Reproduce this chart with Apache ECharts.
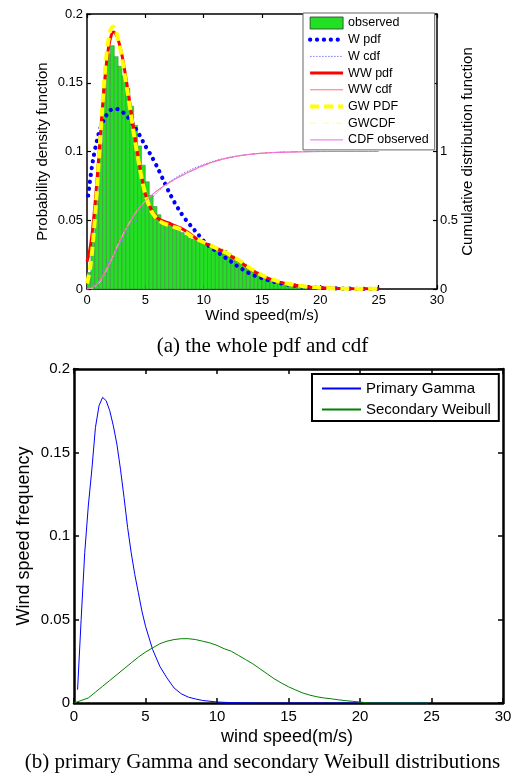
<!DOCTYPE html>
<html>
<head>
<meta charset="utf-8">
<script src="https://cdn.jsdelivr.net/npm/echarts@6/dist/echarts.min.js"></script>
<style>
  html, body { margin: 0; padding: 0; background: #fff; }
  #chart { width: 515px; height: 774px; }
</style>
</head>
<body>
<div id="chart"></div>
<script>
// ---- (a) observed histogram with fitted pdfs and cdfs ----
const binWidth = 1 / 3;
const binCentres = [
  0.17, 0.5, 0.83, 1.17, 1.5, 1.83, 2.17, 2.5, 2.83, 3.17, 3.5, 3.83, 4.17, 4.5, 4.83,
  5.17, 5.5, 5.83, 6.17, 6.5, 6.83, 7.17, 7.5, 7.83, 8.17, 8.5, 8.83, 9.17, 9.5, 9.83,
  10.17, 10.5, 10.83, 11.17, 11.5, 11.83, 12.17, 12.5, 12.83, 13.17, 13.5, 13.83, 14.17, 14.5, 14.83,
  15.17, 15.5, 15.83, 16.17, 16.5, 16.83, 17.17, 17.5, 17.83, 18.17, 18.5, 18.83, 19.17, 19.5, 19.83,
  20.17, 20.5, 20.83, 21.17, 21.5, 21.83, 22.17, 22.5, 22.83, 23.17, 23.5, 23.83, 24.17, 24.5, 24.83
];
const observedFreq = [
  0.012, 0.036, 0.068, 0.106, 0.146, 0.171, 0.177, 0.169, 0.162, 0.155, 0.146, 0.133, 0.119, 0.104, 0.090,
  0.078, 0.068, 0.060, 0.054, 0.050, 0.048, 0.046, 0.044, 0.043, 0.041, 0.039, 0.037, 0.036, 0.035, 0.034,
  0.033, 0.032, 0.031, 0.030, 0.029, 0.028, 0.026, 0.024, 0.022, 0.020, 0.018, 0.016, 0.014, 0.012, 0.010,
  0.0088, 0.0075, 0.0064, 0.0054, 0.0046, 0.0039, 0.0033, 0.0028, 0.0024, 0.0020, 0.0017, 0.0014, 0.0012, 0.0010, 0.0008,
  0.0007, 0.0006, 0.0005, 0.0004, 0.0004, 0.0003, 0.0003, 0.0002, 0.0002, 0.0002, 0.0001, 0.0001, 0.0001, 0.0001, 0.0001
];

const pdfSpeed = [
  0, 0.25, 0.5, 0.75, 1, 1.25, 1.5, 1.75, 2, 2.25, 2.5, 2.75, 3, 3.25, 3.5, 3.75, 4, 4.25, 4.5, 4.75,
  5, 5.5, 6, 6.5, 7, 7.5, 8, 8.5, 9, 9.5, 10, 10.5, 11, 11.5, 12, 12.5, 13, 13.5, 14, 14.5,
  15, 15.5, 16, 16.5, 17, 18, 19, 20, 21, 22, 23, 24, 25
];
const wwPdf = [
  0.020, 0.029, 0.045, 0.068, 0.095, 0.124, 0.150, 0.170, 0.182, 0.187, 0.185, 0.179, 0.170, 0.158, 0.145, 0.131, 0.117, 0.103, 0.090, 0.079,
  0.069, 0.058, 0.052, 0.0495, 0.048, 0.046, 0.0445, 0.042, 0.039, 0.036, 0.0335, 0.032, 0.030, 0.028, 0.0255, 0.023, 0.0205, 0.0175, 0.0145, 0.012,
  0.0097, 0.0079, 0.0063, 0.005, 0.004, 0.0025, 0.0015, 0.0009, 0.0005, 0.0003, 0.0002, 0.0001, 0.0001
];
const gwPdf = [
  0.004, 0.014, 0.033, 0.060, 0.092, 0.124, 0.154, 0.176, 0.188, 0.191, 0.187, 0.179, 0.168, 0.155, 0.142, 0.128, 0.114, 0.101, 0.089, 0.078,
  0.069, 0.057, 0.051, 0.048, 0.0465, 0.045, 0.0435, 0.041, 0.038, 0.036, 0.034, 0.032, 0.030, 0.028, 0.026, 0.0235, 0.021, 0.018, 0.015, 0.0125,
  0.010, 0.0082, 0.0066, 0.0053, 0.0042, 0.0026, 0.0016, 0.0009, 0.0005, 0.0003, 0.0002, 0.0001, 0.0001
];

const wPdfSpeed = [
  0.1, 0.5, 1, 1.5, 2, 2.5, 3, 3.5, 4, 4.5, 5, 5.5, 6, 6.5, 7, 7.5, 8, 8.5, 9, 9.5,
  10, 10.5, 11, 11.5, 12, 12.5, 13, 13.5, 14, 14.5, 15, 16, 17, 18, 19, 20, 21, 22, 23, 24, 25
];
const wPdf = [
  0.068, 0.093, 0.113, 0.124, 0.130, 0.131, 0.129, 0.125, 0.119, 0.112, 0.104, 0.097, 0.089, 0.080, 0.071, 0.063, 0.056, 0.050, 0.045, 0.040,
  0.035, 0.031, 0.028, 0.025, 0.022, 0.019, 0.016, 0.0135, 0.011, 0.0093, 0.0078, 0.0053, 0.0035, 0.0022, 0.0013, 0.0008, 0.0005, 0.0003, 0.0002, 0.0001, 0.0001
];

const cdfSpeed = [
  0, 0.5, 1, 1.5, 2, 2.5, 3, 3.5, 4, 4.5, 5, 5.5, 6, 6.5, 7, 7.5, 8,
  9, 10, 11, 12, 13, 14, 15, 16, 17, 18, 19, 20, 21, 22, 23, 24, 25
];
const wCdf = [
  0, 0.04, 0.09, 0.15, 0.215, 0.28, 0.345, 0.41, 0.47, 0.535, 0.597, 0.653, 0.70, 0.74, 0.774, 0.804, 0.83,
  0.872, 0.906, 0.934, 0.955, 0.970, 0.981, 0.988, 0.993, 0.996, 0.998, 0.999, 0.999, 1, 1, 1, 1, 1
];
const wwCdf = [
  0, 0.016, 0.054, 0.12, 0.203, 0.295, 0.386, 0.465, 0.537, 0.594, 0.641, 0.68, 0.713, 0.742, 0.769, 0.795, 0.818,
  0.86, 0.897, 0.928, 0.951, 0.968, 0.98, 0.988, 0.993, 0.996, 0.998, 0.999, 1, 1, 1, 1, 1, 1
];
const gwCdf = [
  0, 0.008, 0.04, 0.108, 0.195, 0.29, 0.38, 0.46, 0.533, 0.591, 0.64, 0.679, 0.712, 0.741, 0.768, 0.794, 0.817,
  0.859, 0.896, 0.927, 0.951, 0.968, 0.98, 0.988, 0.993, 0.996, 0.998, 0.999, 1, 1, 1, 1, 1, 1
];
const cdfObserved = [
  0, 0.012, 0.045, 0.11, 0.195, 0.285, 0.375, 0.455, 0.53, 0.59, 0.64, 0.68, 0.715, 0.745, 0.772, 0.797, 0.82,
  0.862, 0.9, 0.93, 0.952, 0.968, 0.979, 0.987, 0.992, 0.995, 0.997, 0.999, 1, 1, 1, 1, 1, 1
];

// ---- (b) mixture components ----
const gammaSpeed = [
  0.25, 0.5, 0.75, 1, 1.25, 1.5, 1.75, 2, 2.25, 2.5, 2.75, 3, 3.25, 3.5, 3.75, 4, 4.25, 4.5, 4.75, 5,
  5.25, 5.5, 5.75, 6, 6.5, 7, 7.5, 8, 8.5, 9, 10, 11, 12, 13, 14, 15, 16, 17, 18, 19, 20, 21, 22, 23, 24, 24.75
];
const gammaFreq = [
  0.008, 0.05, 0.09, 0.118, 0.14, 0.165, 0.178, 0.183, 0.181, 0.175, 0.166, 0.155, 0.14, 0.123, 0.105, 0.09, 0.077, 0.066, 0.055, 0.046,
  0.039, 0.032, 0.027, 0.022, 0.015, 0.009, 0.0055, 0.0035, 0.0024, 0.0015, 0.0006, 0.0002, 0.0001, 0, 0, 0, 0, 0, 0, 0, 0, 0, 0, 0, 0, 0
];
const weibullSpeed = [
  0, 0.5, 1, 1.5, 2, 2.5, 3, 3.5, 4, 4.5, 5, 5.5, 6, 6.5, 7, 7.5, 8, 8.5, 9, 9.5,
  10, 10.5, 11, 11.5, 12, 12.5, 13, 13.5, 14, 14.5, 15, 15.5, 16, 16.5, 17, 17.5, 18, 18.5, 19, 19.5,
  20, 20.5, 21, 22, 23, 24, 24.75
];
const weibullFreq = [
  0, 0.0015, 0.003, 0.0065, 0.01, 0.0135, 0.017, 0.0205, 0.024, 0.0275, 0.0305, 0.033, 0.0355, 0.037, 0.038, 0.0385, 0.0385, 0.038, 0.037, 0.036,
  0.0345, 0.0325, 0.031, 0.0285, 0.026, 0.0235, 0.0205, 0.0175, 0.0145, 0.012, 0.0097, 0.0078, 0.006, 0.0047, 0.0037, 0.003, 0.0025, 0.0019, 0.0014, 0.001,
  0.0006, 0.0001, 0, 0, 0, 0, 0
];

const zip = (xs, ys) => xs.map((x, i) => [x, ys[i]]);

const SANS = "'Liberation Sans', Arial, sans-serif";
const SERIF = "'Liberation Serif', 'Times New Roman', serif";

function valueAxis(extra) {
  return Object.assign({
    type: 'value',
    splitLine: { show: false },
    axisLine: { show: true, onZero: false, lineStyle: { color: '#000', width: 1.5 } },
    axisTick: { show: true, inside: true, length: 4, lineStyle: { color: '#000', width: 1.2 } },
    axisLabel: { color: '#000', fontFamily: SANS, fontSize: 13 }
  }, extra);
}

const chart = echarts.init(document.getElementById('chart'), null, { renderer: 'canvas' });

const histColor = '#22e022';
const histEdge = '#4a8a4a';

// line styles shared by the plotted curves and their legend entries
const styleWPdf = { color: '#0000ff', width: 4.2, type: [0.1, 6.8], cap: 'round' };
const styleWCdf = { color: '#7a7aff', width: 1, type: [1.5, 1.5] };
const styleWWPdf = { color: '#ff0000', width: 3 };
const styleWWCdf = { color: '#ff7070', width: 1 };
const styleGWPdf = { color: '#ffff00', width: 4, type: [9, 5] };
const styleGWCdf = { color: '#ffff88', width: 1, type: [6, 3, 1, 3] };
const styleCdfObs = { color: '#ee66ee', width: 1 };

const option = {
  animation: false,
  backgroundColor: '#fff',
  grid: [
    { left: 87, top: 14, width: 350, height: 275 },
    { left: 74, top: 369, width: 429, height: 334 }
  ],
  xAxis: [
    valueAxis({ gridIndex: 0, min: 0, max: 30, interval: 5, position: 'bottom',
      axisLabel: { color: '#000', fontFamily: SANS, fontSize: 13, margin: 5 } }),
    valueAxis({ gridIndex: 0, min: 0, max: 30, interval: 5, position: 'top',
      axisLabel: { show: false } }),
    valueAxis({ gridIndex: 1, min: 0, max: 30, interval: 5, position: 'bottom',
      axisLine: { show: true, onZero: false, lineStyle: { color: '#000', width: 2.5 } },
      axisTick: { show: true, inside: true, length: 5, lineStyle: { color: '#000', width: 1.5 } },
      axisLabel: { color: '#000', fontFamily: SANS, fontSize: 15, margin: 6 } }),
    valueAxis({ gridIndex: 1, min: 0, max: 30, interval: 5, position: 'top',
      axisLine: { show: true, onZero: false, lineStyle: { color: '#000', width: 2.5 } },
      axisTick: { show: true, inside: true, length: 5, lineStyle: { color: '#000', width: 1.5 } },
      axisLabel: { show: false } })
  ],
  yAxis: [
    valueAxis({ gridIndex: 0, min: 0, max: 0.2, interval: 0.05, position: 'left',
      axisLabel: { color: '#000', fontFamily: SANS, fontSize: 13, margin: 4 } }),
    valueAxis({ gridIndex: 0, min: 0, max: 2, interval: 0.5, position: 'right',
      axisLabel: { color: '#000', fontFamily: SANS, fontSize: 13, margin: 3,
        formatter: v => (v > 1 ? '' : String(v)) } }),
    valueAxis({ gridIndex: 1, min: 0, max: 0.2, interval: 0.05, position: 'left',
      axisLine: { show: true, onZero: false, lineStyle: { color: '#000', width: 2.5 } },
      axisTick: { show: true, inside: true, length: 5, lineStyle: { color: '#000', width: 1.5 } },
      axisLabel: { color: '#000', fontFamily: SANS, fontSize: 15, margin: 4 } }),
    valueAxis({ gridIndex: 1, min: 0, max: 0.2, interval: 0.05, position: 'right',
      axisLine: { show: true, onZero: false, lineStyle: { color: '#000', width: 2.5 } },
      axisTick: { show: true, inside: true, length: 5, lineStyle: { color: '#000', width: 1.5 } },
      axisLabel: { show: false } })
  ],
  legend: [
    {
      orient: 'vertical', left: 303, top: 13,
      padding: [3, 6, 3, 5],
      itemWidth: 33, itemHeight: 12, itemGap: 2.7,
      backgroundColor: '#fff', borderColor: '#666', borderWidth: 1, borderRadius: 0,
      itemStyle: { opacity: 0 },
      textStyle: { color: '#000', fontFamily: SANS, fontSize: 12.5, lineHeight: 14 },
      data: [
        { name: 'observed', icon: 'rect',
          itemStyle: { opacity: 1, color: histColor, borderColor: '#333', borderWidth: 0.8 } },
        { name: 'W pdf', lineStyle: styleWPdf },
        { name: 'W cdf', lineStyle: styleWCdf },
        { name: 'WW pdf', lineStyle: styleWWPdf },
        { name: 'WW cdf', lineStyle: styleWWCdf },
        { name: 'GW PDF', lineStyle: styleGWPdf },
        { name: 'GWCDF', lineStyle: styleGWCdf },
        { name: 'CDF observed', lineStyle: styleCdfObs }
      ]
    },
    {
      orient: 'vertical', left: 312, top: 374,
      padding: [6, 8, 3, 9],
      itemWidth: 39, itemHeight: 10, itemGap: 4,
      backgroundColor: '#fff', borderColor: '#000', borderWidth: 2, borderRadius: 0,
      itemStyle: { opacity: 0 },
      textStyle: { color: '#000', fontFamily: SANS, fontSize: 15, lineHeight: 17 },
      data: ['Primary Gamma', 'Secondary Weibull']
    }
  ],
  series: [
    {
      name: 'observed', type: 'custom', xAxisIndex: 0, yAxisIndex: 0, clip: true,
      itemStyle: { color: histColor },
      encode: { x: 0, y: 1 },
      data: zip(binCentres, observedFreq),
      renderItem: function (params, api) {
        const x = api.value(0), h = api.value(1);
        const p0 = api.coord([x - binWidth / 2, h]);
        const p1 = api.coord([x + binWidth / 2, 0]);
        return {
          type: 'rect',
          shape: { x: p0[0], y: p0[1], width: p1[0] - p0[0], height: p1[1] - p0[1] },
          style: { fill: histColor, stroke: histEdge, lineWidth: 0.6 }
        };
      }
    },
    {
      name: 'W pdf', type: 'line', xAxisIndex: 0, yAxisIndex: 0, symbol: 'none', smooth: 0.3,
      lineStyle: styleWPdf, itemStyle: { color: styleWPdf.color },
      data: zip(wPdfSpeed, wPdf)
    },
    {
      name: 'W cdf', type: 'line', xAxisIndex: 0, yAxisIndex: 1, symbol: 'none', smooth: 0.3,
      lineStyle: styleWCdf, itemStyle: { color: styleWCdf.color },
      data: zip(cdfSpeed, wCdf)
    },
    {
      name: 'WW pdf', type: 'line', xAxisIndex: 0, yAxisIndex: 0, symbol: 'none', smooth: 0.3,
      lineStyle: styleWWPdf, itemStyle: { color: styleWWPdf.color },
      data: zip(pdfSpeed, wwPdf)
    },
    {
      name: 'WW cdf', type: 'line', xAxisIndex: 0, yAxisIndex: 1, symbol: 'none', smooth: 0.3,
      lineStyle: styleWWCdf, itemStyle: { color: styleWWCdf.color },
      data: zip(cdfSpeed, wwCdf)
    },
    {
      name: 'GW PDF', type: 'line', xAxisIndex: 0, yAxisIndex: 0, symbol: 'none', smooth: 0.3,
      lineStyle: styleGWPdf, itemStyle: { color: styleGWPdf.color },
      data: zip(pdfSpeed, gwPdf)
    },
    {
      name: 'GWCDF', type: 'line', xAxisIndex: 0, yAxisIndex: 1, symbol: 'none', smooth: 0.3,
      lineStyle: styleGWCdf, itemStyle: { color: styleGWCdf.color },
      data: zip(cdfSpeed, gwCdf)
    },
    {
      name: 'CDF observed', type: 'line', xAxisIndex: 0, yAxisIndex: 1, symbol: 'none', smooth: 0.3,
      lineStyle: styleCdfObs, itemStyle: { color: styleCdfObs.color },
      data: zip(cdfSpeed, cdfObserved)
    },
    {
      name: 'Primary Gamma', type: 'line', xAxisIndex: 2, yAxisIndex: 2, symbol: 'none',
      lineStyle: { color: '#0000ff', width: 1 },
      itemStyle: { color: '#0000ff' },
      data: zip(gammaSpeed, gammaFreq)
    },
    {
      name: 'Secondary Weibull', type: 'line', xAxisIndex: 2, yAxisIndex: 2, symbol: 'none',
      lineStyle: { color: '#008000', width: 1 },
      itemStyle: { color: '#008000' },
      data: zip(weibullSpeed, weibullFreq)
    }
  ],
  graphic: [
    { type: 'text', x: 43, y: 151.5, rotation: Math.PI / 2,
      style: { text: 'Probability density function', font: '15px ' + SANS, fill: '#000', align: 'center', verticalAlign: 'middle' } },
    { type: 'text', x: 468, y: 151.5, rotation: Math.PI / 2,
      style: { text: 'Cumulative distribution function', font: '15px ' + SANS, fill: '#000', align: 'center', verticalAlign: 'middle' } },
    { type: 'text', x: 262, y: 316,
      style: { text: 'Wind speed(m/s)', font: '15px ' + SANS, fill: '#000', align: 'center', verticalAlign: 'middle' } },
    { type: 'text', x: 262.5, y: 346,
      style: { text: '(a) the whole pdf and cdf', font: '21px ' + SERIF, fill: '#000', align: 'center', verticalAlign: 'middle' } },
    { type: 'text', x: 24, y: 536, rotation: Math.PI / 2,
      style: { text: 'Wind speed frequency', font: '18px ' + SANS, fill: '#000', align: 'center', verticalAlign: 'middle' } },
    { type: 'text', x: 287, y: 737,
      style: { text: 'wind speed(m/s)', font: '18px ' + SANS, fill: '#000', align: 'center', verticalAlign: 'middle' } },
    { type: 'text', x: 262.5, y: 762,
      style: { text: '(b) primary Gamma and secondary Weibull distributions', font: '21px ' + SERIF, fill: '#000', align: 'center', verticalAlign: 'middle' } }
  ]
};

chart.setOption(option);
</script>
</body>
</html>
